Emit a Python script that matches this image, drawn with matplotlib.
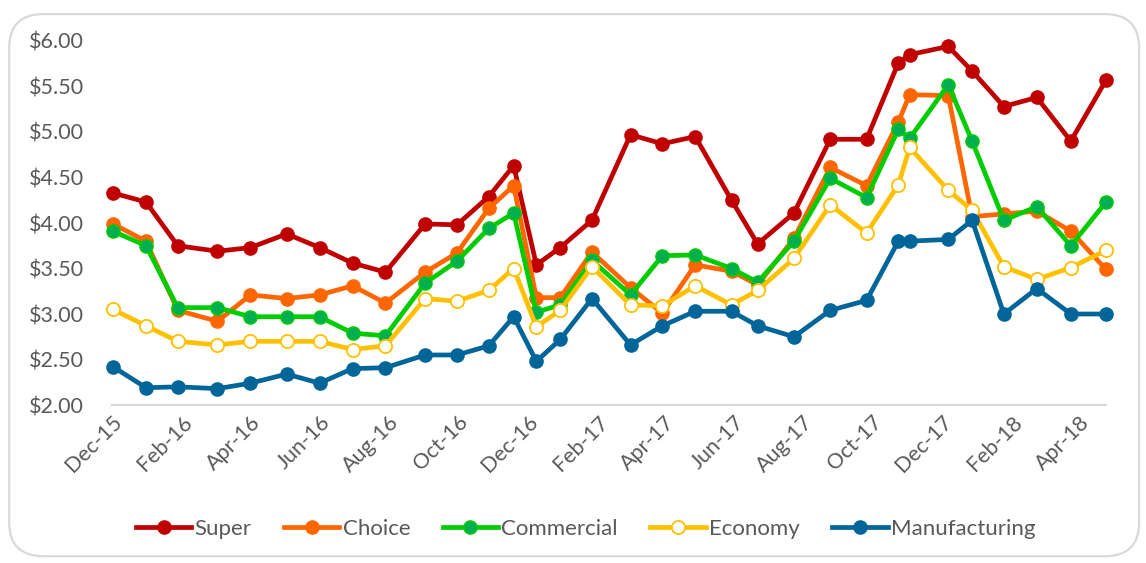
import matplotlib
matplotlib.use("Agg")
import matplotlib.pyplot as plt
import matplotlib.dates as mdates
from matplotlib.patches import FancyBboxPatch
from matplotlib.ticker import FuncFormatter
import pandas as pd

# report dates and prices per grade
dates = ['2015-12-02', '2015-12-31', '2016-01-28', '2016-03-03', '2016-04-01', '2016-05-03',
         '2016-06-01', '2016-06-30', '2016-07-29', '2016-09-02', '2016-09-30', '2016-10-28',
         '2016-11-19', '2016-12-09', '2016-12-30', '2017-01-27', '2017-03-02', '2017-03-30',
         '2017-04-28', '2017-05-30', '2017-06-22', '2017-07-24', '2017-08-25', '2017-09-26',
         '2017-10-24', '2017-11-03', '2017-12-07', '2017-12-28', '2018-01-25', '2018-02-23',
         '2018-03-25', '2018-04-25']

super_ = [4.33, 4.23, 3.75, 3.69, 3.73, 3.88, 3.73, 3.56, 3.46, 3.99, 3.98, 4.29, 4.63, 3.54,
          3.73, 4.03, 4.97, 4.87, 4.95, 4.25, 3.77, 4.11, 4.92, 4.92, 5.76, 5.85, 5.94, 5.67,
          5.28, 5.38, 4.90, 5.57]
choice = [3.99, 3.80, 3.04, 2.92, 3.21, 3.17, 3.21, 3.31, 3.12, 3.46, 3.67, 4.16, 4.41, 3.18,
          3.18, 3.68, 3.29, 3.01, 3.54, 3.47, 3.32, 3.83, 4.61, 4.41, 5.11, 5.41, 5.40, 4.07,
          4.10, 4.13, 3.91, 3.49]
commercial = [3.91, 3.75, 3.07, 3.07, 2.97, 2.97, 2.97, 2.79, 2.76, 3.34, 3.58, 3.94, 4.11, 3.02,
              3.10, 3.59, 3.21, 3.64, 3.65, 3.50, 3.35, 3.80, 4.49, 4.28, 5.03, 4.93, 5.52, 4.90,
              4.03, 4.18, 3.75, 4.23]
economy = [3.05, 2.87, 2.70, 2.66, 2.70, 2.70, 2.70, 2.61, 2.65, 3.17, 3.14, 3.26, 3.50, 2.86,
           3.04, 3.52, 3.10, 3.09, 3.31, 3.10, 3.26, 3.61, 4.20, 3.89, 4.42, 4.83, 4.36, 4.14,
           3.52, 3.38, 3.51, 3.70]
manufacturing = [2.42, 2.19, 2.20, 2.18, 2.24, 2.34, 2.24, 2.40, 2.41, 2.55, 2.55, 2.65, 2.97, 2.48,
                 2.72, 3.17, 2.66, 2.87, 3.03, 3.03, 2.87, 2.75, 3.04, 3.15, 3.80, 3.80, 3.82, 4.03,
                 3.00, 3.28, 3.00, 3.00]

x = pd.to_datetime(dates)

plt.rcParams['font.family'] = ['Lato', 'DejaVu Sans']
grey = '#595959'

fig = plt.figure(figsize=(11.46, 5.63), dpi=100)
ax = fig.add_axes([0.0977, 0.2806, 0.8674, 0.6466])

# rounded chart-area frame
fig.patches.append(FancyBboxPatch((0.008, 0.012), 0.986, 0.963,
                                  boxstyle='round,pad=0,rounding_size=0.03',
                                  transform=fig.transFigure, facecolor='none',
                                  edgecolor='#D9D9D9', linewidth=1.6, mutation_aspect=2.0))

lw, ms = 3.4, 9.5
ax.plot(x, super_, color='#C00000', lw=lw, marker='o', ms=ms, label='Super', clip_on=False)
ax.plot(x, choice, color='#FF6600', lw=lw, marker='o', ms=ms, label='Choice', clip_on=False)
ax.plot(x, commercial, color='#00CC00', lw=lw, marker='o', ms=ms, mfc='#00B050', mec='#00CC00',
        mew=1, label='Commercial', clip_on=False)
ax.plot(x, economy, color='#FFC000', lw=lw, marker='o', ms=ms, mfc='white', mec='#FFC000',
        mew=1.3, label='Economy', clip_on=False)
ax.plot(x, manufacturing, color='#006699', lw=lw, marker='o', ms=ms, label='Manufacturing',
        clip_on=False)

ax.set_ylim(2, 6)
ax.set_xlim(pd.Timestamp('2015-12-01'), x[-1])
ax.set_yticks([2, 2.5, 3, 3.5, 4, 4.5, 5, 5.5, 6])
ax.yaxis.set_major_formatter(FuncFormatter(lambda v, p: f'${v:.2f}'))
ax.xaxis.set_major_locator(mdates.MonthLocator(bymonth=[2, 4, 6, 8, 10, 12]))
ax.xaxis.set_major_formatter(mdates.DateFormatter('%b-%y'))

for s in ['top', 'right', 'left']:
    ax.spines[s].set_visible(False)
ax.spines['bottom'].set_color('#D9D9D9')
ax.spines['bottom'].set_linewidth(1.5)
ax.tick_params(axis='both', length=0, colors=grey, labelsize=15.5)
ax.tick_params(axis='y', pad=20)
ax.tick_params(axis='x', pad=5)
for lab in ax.get_xticklabels():
    lab.set_rotation(45)
    lab.set_ha('right')
    lab.set_rotation_mode('anchor')

leg = fig.legend(loc='center', bbox_to_anchor=(0.511, 0.06), ncol=5, frameon=False,
                 fontsize=16, handlelength=2.5, handletextpad=0.15, columnspacing=1.45)
for t in leg.get_texts():
    t.set_color(grey)

fig.savefig('out.png', dpi=100)
